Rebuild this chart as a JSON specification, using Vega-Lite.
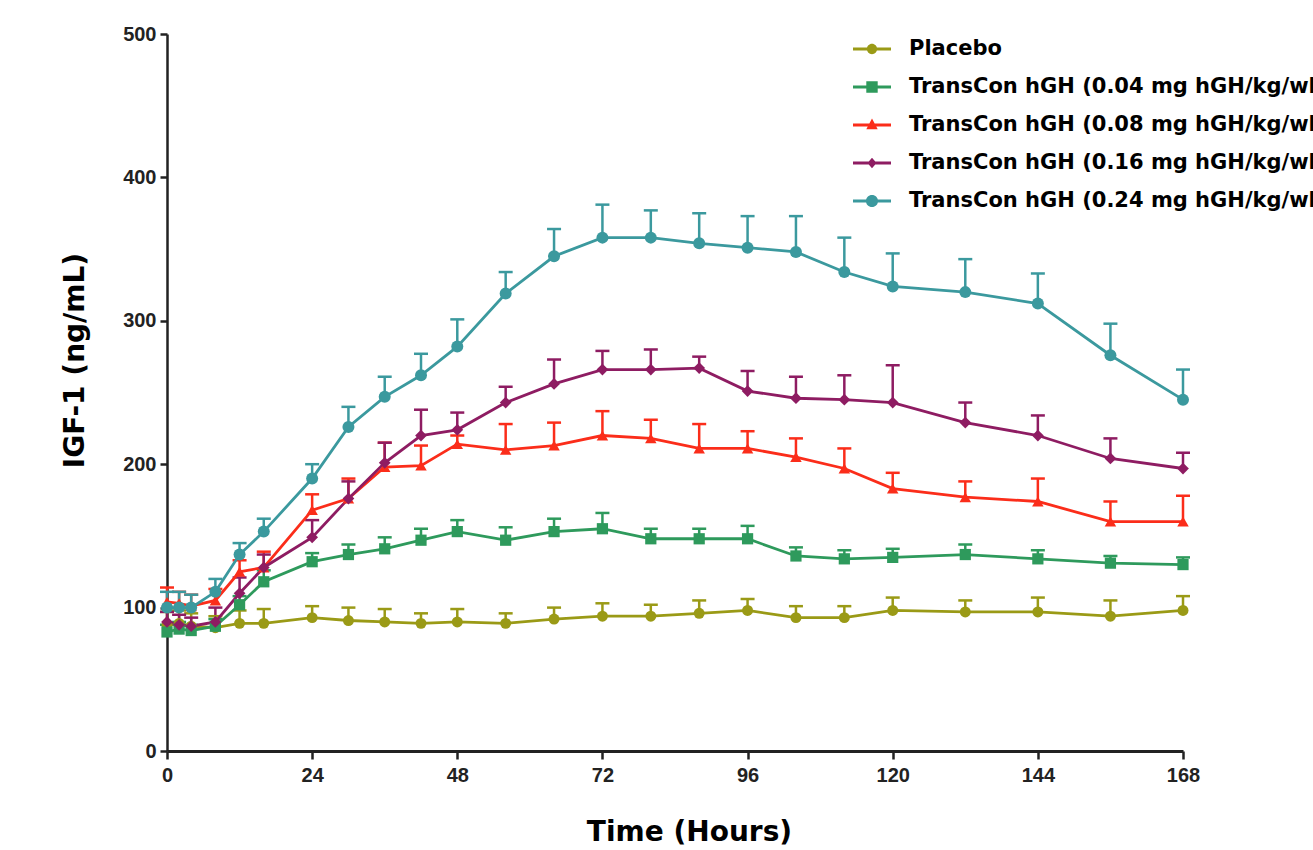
{
  "$schema": "https://vega.github.io/schema/vega-lite/v6.json",
  "autosize": {"type": "none"},
  "width": 1016,
  "height": 717,
  "padding": {"left": 167, "top": 34, "right": 130, "bottom": 99},
  "background": "white",
  "config": {"view": {"stroke": null}},
  "datasets": {
    "names": [
      {"g": "P", "name": "Placebo"},
      {"g": "G", "name": "TransCon hGH (0.04 mg hGH/kg/wk)"},
      {"g": "R", "name": "TransCon hGH (0.08 mg hGH/kg/wk)"},
      {"g": "U", "name": "TransCon hGH (0.16 mg hGH/kg/wk)"},
      {"g": "C", "name": "TransCon hGH (0.24 mg hGH/kg/wk)"}
    ],
    "obs": [
      {"g":"P","t":0,"v":88,"e":97},{"g":"P","t":2,"v":89,"e":98},{"g":"P","t":4,"v":87,"e":96},{"g":"P","t":8,"v":86,"e":94},{"g":"P","t":12,"v":89,"e":98},{"g":"P","t":16,"v":89,"e":99},{"g":"P","t":24,"v":93,"e":101},{"g":"P","t":30,"v":91,"e":100},{"g":"P","t":36,"v":90,"e":99},{"g":"P","t":42,"v":89,"e":96},{"g":"P","t":48,"v":90,"e":99},{"g":"P","t":56,"v":89,"e":96},{"g":"P","t":64,"v":92,"e":100},{"g":"P","t":72,"v":94,"e":103},{"g":"P","t":80,"v":94,"e":102},{"g":"P","t":88,"v":96,"e":105},{"g":"P","t":96,"v":98,"e":106},{"g":"P","t":104,"v":93,"e":101},{"g":"P","t":112,"v":93,"e":101},{"g":"P","t":120,"v":98,"e":107},{"g":"P","t":132,"v":97,"e":105},{"g":"P","t":144,"v":97,"e":107},{"g":"P","t":156,"v":94,"e":105},{"g":"P","t":168,"v":98,"e":108},
      {"g":"G","t":0,"v":83,"e":88},{"g":"G","t":2,"v":85,"e":90},{"g":"G","t":4,"v":84,"e":88},{"g":"G","t":8,"v":87,"e":92},{"g":"G","t":12,"v":102,"e":108},{"g":"G","t":16,"v":118,"e":126},{"g":"G","t":24,"v":132,"e":138},{"g":"G","t":30,"v":137,"e":144},{"g":"G","t":36,"v":141,"e":149},{"g":"G","t":42,"v":147,"e":155},{"g":"G","t":48,"v":153,"e":161},{"g":"G","t":56,"v":147,"e":156},{"g":"G","t":64,"v":153,"e":162},{"g":"G","t":72,"v":155,"e":166},{"g":"G","t":80,"v":148,"e":155},{"g":"G","t":88,"v":148,"e":155},{"g":"G","t":96,"v":148,"e":157},{"g":"G","t":104,"v":136,"e":142},{"g":"G","t":112,"v":134,"e":140},{"g":"G","t":120,"v":135,"e":141},{"g":"G","t":132,"v":137,"e":144},{"g":"G","t":144,"v":134,"e":140},{"g":"G","t":156,"v":131,"e":136},{"g":"G","t":168,"v":130,"e":135},
      {"g":"R","t":0,"v":104,"e":114},{"g":"R","t":2,"v":103,"e":111},{"g":"R","t":4,"v":101,"e":109},{"g":"R","t":8,"v":105,"e":113},{"g":"R","t":12,"v":125,"e":133},{"g":"R","t":16,"v":128,"e":139},{"g":"R","t":24,"v":168,"e":179},{"g":"R","t":30,"v":176,"e":190},{"g":"R","t":36,"v":198,"e":215},{"g":"R","t":42,"v":199,"e":213},{"g":"R","t":48,"v":214,"e":220},{"g":"R","t":56,"v":210,"e":228},{"g":"R","t":64,"v":213,"e":229},{"g":"R","t":72,"v":220,"e":237},{"g":"R","t":80,"v":218,"e":231},{"g":"R","t":88,"v":211,"e":228},{"g":"R","t":96,"v":211,"e":223},{"g":"R","t":104,"v":205,"e":218},{"g":"R","t":112,"v":197,"e":211},{"g":"R","t":120,"v":183,"e":194},{"g":"R","t":132,"v":177,"e":188},{"g":"R","t":144,"v":174,"e":190},{"g":"R","t":156,"v":160,"e":174},{"g":"R","t":168,"v":160,"e":178},
      {"g":"U","t":0,"v":90,"e":97},{"g":"U","t":2,"v":88,"e":95},{"g":"U","t":4,"v":87,"e":93},{"g":"U","t":8,"v":90,"e":100},{"g":"U","t":12,"v":110,"e":121},{"g":"U","t":16,"v":128,"e":137},{"g":"U","t":24,"v":149,"e":161},{"g":"U","t":30,"v":176,"e":188},{"g":"U","t":36,"v":201,"e":215},{"g":"U","t":42,"v":220,"e":238},{"g":"U","t":48,"v":224,"e":236},{"g":"U","t":56,"v":243,"e":254},{"g":"U","t":64,"v":256,"e":273},{"g":"U","t":72,"v":266,"e":279},{"g":"U","t":80,"v":266,"e":280},{"g":"U","t":88,"v":267,"e":275},{"g":"U","t":96,"v":251,"e":265},{"g":"U","t":104,"v":246,"e":261},{"g":"U","t":112,"v":245,"e":262},{"g":"U","t":120,"v":243,"e":269},{"g":"U","t":132,"v":229,"e":243},{"g":"U","t":144,"v":220,"e":234},{"g":"U","t":156,"v":204,"e":218},{"g":"U","t":168,"v":197,"e":208},
      {"g":"C","t":0,"v":100,"e":111},{"g":"C","t":2,"v":100,"e":111},{"g":"C","t":4,"v":100,"e":109},{"g":"C","t":8,"v":111,"e":120},{"g":"C","t":12,"v":137,"e":145},{"g":"C","t":16,"v":153,"e":162},{"g":"C","t":24,"v":190,"e":200},{"g":"C","t":30,"v":226,"e":240},{"g":"C","t":36,"v":247,"e":261},{"g":"C","t":42,"v":262,"e":277},{"g":"C","t":48,"v":282,"e":301},{"g":"C","t":56,"v":319,"e":334},{"g":"C","t":64,"v":345,"e":364},{"g":"C","t":72,"v":358,"e":381},{"g":"C","t":80,"v":358,"e":377},{"g":"C","t":88,"v":354,"e":375},{"g":"C","t":96,"v":351,"e":373},{"g":"C","t":104,"v":348,"e":373},{"g":"C","t":112,"v":334,"e":358},{"g":"C","t":120,"v":324,"e":347},{"g":"C","t":132,"v":320,"e":343},{"g":"C","t":144,"v":312,"e":333},{"g":"C","t":156,"v":276,"e":298},{"g":"C","t":168,"v":245,"e":266}
    ]
  },
  "data": {"name": "obs"},
  "transform": [
    {"lookup": "g", "from": {"data": {"name": "names"}, "key": "g", "fields": ["name"]}}
  ],
  "encoding": {
    "x": {
      "field": "t", "type": "quantitative",
      "scale": {"domain": [0, 168], "nice": false, "zero": true},
      "axis": {
        "values": [0, 24, 48, 72, 96, 120, 144, 168],
        "title": "Time (Hours)",
        "grid": false,
        "labelFlush": false,
        "domainColor": "#222", "domainWidth": 3,
        "tickColor": "#222", "tickWidth": 2.5, "tickSize": 8,
        "labelFont": "Liberation Sans", "labelFontWeight": "bold", "labelFontSize": 20, "labelColor": "#222", "labelPadding": 6,
        "titleFont": "DejaVu Sans", "titleFontWeight": "bold", "titleFontSize": 28, "titleColor": "#000",
        "titleX": 522, "titleY": 89, "titleAnchor": null, "titleAlign": "center", "titleBaseline": "alphabetic"
      }
    },
    "color": {
      "field": "name", "type": "nominal",
      "scale": {
        "domain": ["Placebo", "TransCon hGH (0.04 mg hGH/kg/wk)", "TransCon hGH (0.08 mg hGH/kg/wk)", "TransCon hGH (0.16 mg hGH/kg/wk)", "TransCon hGH (0.24 mg hGH/kg/wk)"],
        "range": ["#9a9a16", "#2e9a5c", "#fb2d1a", "#8e1c62", "#3b999e"]
      },
      "legend": {
        "title": null,
        "orient": "none",
        "legendX": 686,
        "legendY": -4,
        "padding": 0,
        "rowPadding": 9,
        "symbolSize": 1444,
        "labelOffset": 18,
        "labelLimit": 1000,
        "labelFont": "DejaVu Sans",
        "labelFontWeight": "bold",
        "labelFontSize": 21,
        "labelColor": "#000",
        "encode": {
          "symbols": {
            "update": {
              "shape": {"signal": "['M-1,-0.075H1V0.075H-1Z M0.27,0A0.27,0.27 0 1,1 -0.27,0A0.27,0.27 0 1,1 0.27,0Z', 'M-1,-0.075H1V0.075H-1Z M-0.3,-0.3H0.3V0.3H-0.3Z', 'M-1,-0.075H1V0.075H-1Z M0,-0.34L0.3,0.22H-0.3Z', 'M-1,-0.075H1V0.075H-1Z M0,-0.28L0.24,0L0,0.28L-0.24,0Z', 'M-1,-0.075H1V0.075H-1Z M0.32,0A0.32,0.32 0 1,1 -0.32,0A0.32,0.32 0 1,1 0.32,0Z'][indexof(domain('color'), datum.value)]"},
              "fill": {"signal": "scale('color', datum.value)"},
              "fillOpacity": {"value": 1},
              "opacity": {"value": 1},
              "strokeWidth": {"value": 0},
              "size": {"value": 1444}
            }
          }
        }
      }
    }
  },
  "layer": [
    {
      "mark": {"type": "rule", "strokeWidth": 2.5},
      "encoding": {
        "y": {
          "field": "v", "type": "quantitative",
          "scale": {"domain": [0, 500], "nice": false},
          "axis": {
            "values": [0, 100, 200, 300, 400, 500],
            "title": "IGF-1 (ng/mL)",
            "grid": false,
            "domainColor": "#222", "domainWidth": 2.5,
            "tickColor": "#222", "tickWidth": 2.5, "tickSize": 7,
            "labelFont": "Liberation Sans", "labelFontWeight": "bold", "labelFontSize": 20, "labelColor": "#222", "labelPadding": 4,
            "titleFont": "DejaVu Sans", "titleFontWeight": "bold", "titleFontSize": 28, "titleColor": "#000",
            "titleX": -84, "titleY": 326, "titleAngle": 270, "titleAnchor": null, "titleAlign": "center", "titleBaseline": "alphabetic"
          }
        },
        "y2": {"field": "e"}
      }
    },
    {
      "mark": {"type": "tick", "orient": "horizontal", "size": 14, "thickness": 2.5, "opacity": 1},
      "encoding": {"y": {"field": "e", "type": "quantitative"}}
    },
    {
      "mark": {"type": "line", "strokeWidth": 2.8},
      "encoding": {"y": {"field": "v", "type": "quantitative"}, "detail": {"field": "name"}}
    },
    {
      "mark": {"type": "point", "filled": true, "opacity": 1},
      "encoding": {
        "y": {"field": "v", "type": "quantitative"},
        "shape": {
          "field": "g", "type": "nominal",
          "scale": {
            "domain": ["P", "G", "R", "U", "C"],
            "range": ["circle", "square", "triangle-up", "diamond", "circle"]
          },
          "legend": null
        },
        "size": {
          "field": "g", "type": "nominal",
          "scale": {
            "domain": ["P", "G", "R", "U", "C"],
            "range": [120, 144, 130, 100, 169]
          },
          "legend": null
        }
      }
    }
  ]
}
